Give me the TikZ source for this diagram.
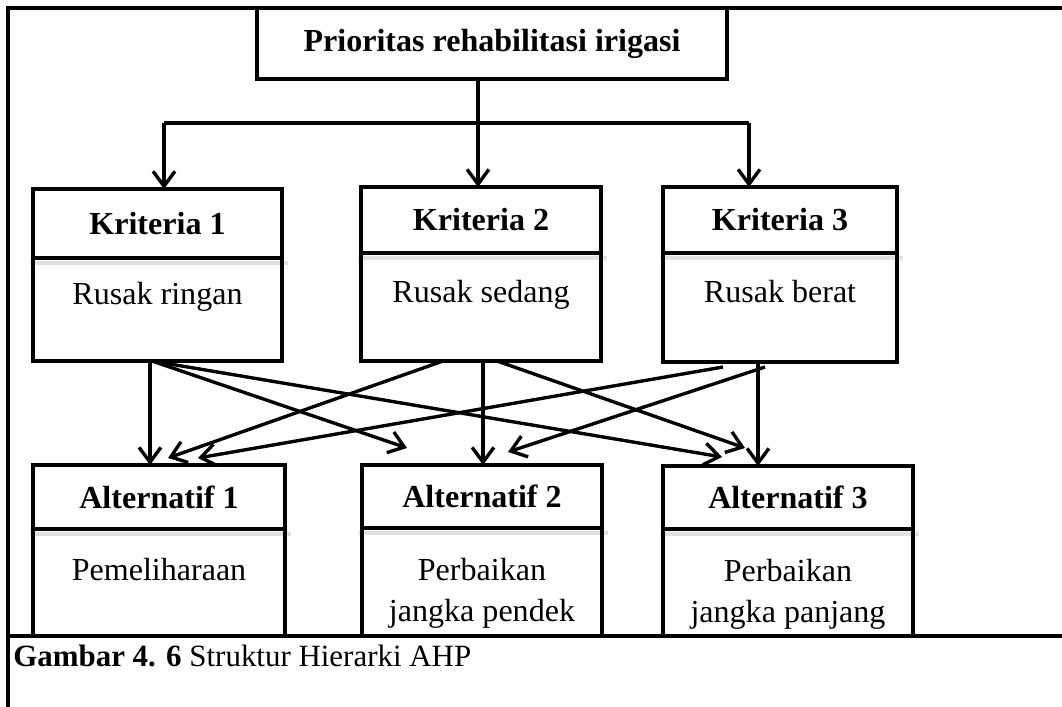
\documentclass[tikz,border=0pt]{standalone}
\usepackage{fontspec}
\setmainfont{Liberation Serif}
\usetikzlibrary{arrows.meta,calc,positioning}

\tikzset{
  frame/.style={line width=2.4pt},
  box/.style 2 args={draw,line width=3.3pt,outer sep=0pt,inner sep=0pt,
    minimum width=#1*0.025cm,minimum height=#2*0.025cm},
  divline/.style={line width=3.3pt},
  shade/.style={line width=3pt,black!12},
  head/.style={inner sep=0pt,font=\fontsize{22.8}{27}\selectfont\bfseries},
  body/.style={anchor=north,inner sep=0pt,align=center,
    font=\fontsize{22.8}{29}\selectfont},
  link/.style={line width=2.4pt},
  arr/.style={link,-{Straight Barb[length=10.5pt,width=15.5pt]}}
}

\begin{document}
\begin{tikzpicture}[x=0.025cm,y=-0.025cm]
\useasboundingbox (0,0) rectangle (1062,707);
%\draw[help lines] (0,0) grid[step=50] (1062,707);
\draw[frame] (1062,8) -- (8,8) -- (8,707);
\draw[frame] (8,636) -- (1062,636);
%
\node[box={470}{71},font=\fontsize{22.8}{27}\selectfont\bfseries] (prio) at (492,43.5)
  {Prioritas rehabilitasi irigasi};
%
\foreach \nm/\xa/\ya/\bw/\bh/\dv/\ttl/\txt in {
  k1/33/189/249/172/69/{Kriteria 1}/{Rusak ringan},
  k2/361/187/240/174/66/{Kriteria 2}/{Rusak sedang},
  k3/663/187/234/175/66/{Kriteria 3}/{Rusak berat},
  a1/33/465/252/171/64/{Alternatif 1}/{Pemeliharaan},
  a2/362/465/240/171/63/{Alternatif 2}/{Perbaikan\\jangka pendek},
  a3/663/466/250/170/63/{Alternatif 3}/{Perbaikan\\jangka panjang}}
{
\draw[shade] ({\xa-3},{\ya+\dv+5}) -- ({\xa+\bw+6},{\ya+\dv+5});
\node[box={\bw}{\bh}] (\nm) at ({\xa+\bw/2},{\ya+\bh/2}) {};
\draw[divline] ($(\nm.north west)+(0,\dv)$) -- ($(\nm.north east)+(0,\dv)$);
\node[head] (\nm h) at ($(\nm.north)+(0,\dv/2)$) {\ttl};
\node[body] (\nm b) at ($(\nm.north)+(0,93)$) {\txt};
}
%
% top level to criteria
\coordinate (bl) at (164,123);
\coordinate (br) at (749,123);
\draw[link] (bl) -- (br);
\draw[arr] (bl) -- (bl |- k1.north);
\draw[arr] (br) -- (br |- k3.north);
\draw[arr] ($(prio.south west)+(221,0)$) -- ($(k2.north west)+(117,0)$);
%
% criteria to alternatives
\draw[arr] ($(k1.south west)+(117,0)$) -- ($(a1.north west)+(117,0)$);
\draw[arr] ($(k1.south west)+(119,0)$) -- ($(a2.north west)+(45,-17)$);
\draw[arr] ($(k1.south west)+(119,0)$) -- ($(a3.north west)+(59,-9)$);
\draw[arr] ($(k2.south west)+(82,0)$) -- ($(a1.north west)+(135,-7)$);
\draw[arr] ($(k2.south west)+(122,0)$) -- ($(a2.north west)+(121,0)$);
\draw[arr] ($(k2.south west)+(136,0)$) -- ($(a3.north west)+(82,-18)$);
\draw[arr] ($(k3.south west)+(60,5)$) -- ($(a1.north west)+(165,-7)$);
\draw[arr] ($(k3.south west)+(102,5)$) -- ($(a2.north west)+(146,-13)$);
\draw[arr] ($(k3.south west)+(95,0)$) -- ($(a3.north west)+(95,0)$);
%
\node[anchor=base west,inner sep=0pt,font=\fontsize{22}{26}\selectfont] (cap) at (13,666)
  {\textbf{Gambar 4. 6} Struktur Hierarki AHP};
\end{tikzpicture}
\end{document}
